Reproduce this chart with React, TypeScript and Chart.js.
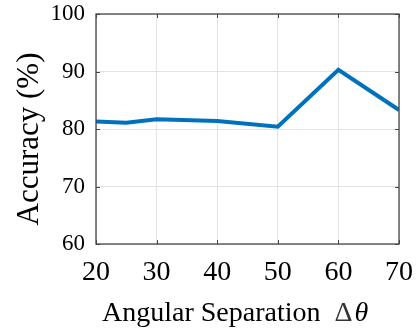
import React, { useEffect, useRef } from "react";
import { Chart, registerables } from "chart.js";

Chart.register(...registerables);

const xValues = [20, 25, 30, 40, 50, 60, 70];
const accuracy = [81.3, 81.1, 81.7, 81.4, 80.4, 90.3, 83.3];
const xTicks = [20, 30, 40, 50, 60, 70];
const yTicks = [60, 70, 80, 90, 100];
const xTitleText = "Angular Separation";
const xTitleSymbols = ["Δ", "θ"];
const yTitle = "Accuracy (%)";

const FONT = "'Liberation Serif', 'DejaVu Serif', serif";
const AXIS_COLOR = "#454545";

const boxPlugin = {
  id: "matlabBox",
  afterDraw(chart: any) {
    const { ctx, chartArea: a, scales } = chart;
    ctx.save();
    ctx.strokeStyle = AXIS_COLOR;
    ctx.lineWidth = 1;
    const tl = 4;
    ctx.beginPath();
    for (const v of xTicks) {
      const x = Math.round(scales.x.getPixelForValue(v)) + 0.5;
      ctx.moveTo(x, a.bottom);
      ctx.lineTo(x, a.bottom - tl);
      ctx.moveTo(x, a.top);
      ctx.lineTo(x, a.top + tl);
    }
    for (const v of yTicks) {
      const y = Math.round(scales.y.getPixelForValue(v)) + 0.5;
      ctx.moveTo(a.left, y);
      ctx.lineTo(a.left + tl, y);
      ctx.moveTo(a.right, y);
      ctx.lineTo(a.right - tl, y);
    }
    ctx.stroke();
    ctx.lineWidth = 1.3;
    ctx.strokeRect(a.left, a.top, a.right - a.left, a.bottom - a.top);

    // x title: "Angular Separation Δθ" (θ italic)
    ctx.fillStyle = "#000";
    ctx.textBaseline = "alphabetic";
    ctx.textAlign = "left";
    const fs = 28;
    ctx.font = `${fs}px ${FONT}`;
    const w1 = ctx.measureText(xTitleText).width;
    const wD = ctx.measureText(xTitleSymbols[0]).width;
    let x0 = a.left + 6;
    const base = 321;
    ctx.fillText(xTitleText, x0, base);
    x0 += w1 + 14;
    ctx.fillStyle = "#333";
    ctx.fillText(xTitleSymbols[0], x0, base);
    x0 += wD + 2;
    ctx.fillStyle = "#000";
    ctx.font = `italic ${fs}px ${FONT}`;
    ctx.fillText(xTitleSymbols[1], x0, base);

    // y title
    ctx.font = `31px ${FONT}`;
    ctx.textAlign = "center";
    ctx.textBaseline = "alphabetic";
    ctx.translate(38, 139);
    ctx.rotate(-Math.PI / 2);
    ctx.fillText(yTitle, 0, 0);
    ctx.restore();
  },
};

const zeroPad = (s: any) => {
  s.paddingTop = 0;
  s.paddingBottom = 0;
  s.paddingLeft = 0;
  s.paddingRight = 0;
};

export default function App() {
  const ref = useRef<HTMLCanvasElement | null>(null);
  useEffect(() => {
    document.body.style.margin = "0";
    const chart = new Chart(ref.current!, {
      type: "line",
      data: {
        datasets: [
          {
            data: xValues.map((x, i) => ({ x, y: accuracy[i] })),
            borderColor: "#0072BD",
            borderWidth: 4,
            pointRadius: 0,
            fill: false,
            tension: 0,
          },
        ],
      },
      options: {
        animation: false,
        responsive: false,
        events: [],
        layout: { autoPadding: false, padding: { top: 14, right: 20, left: 0, bottom: 0 } },
        plugins: { legend: { display: false }, tooltip: { enabled: false } },
        scales: {
          x: {
            type: "linear",
            min: 20,
            max: 70,
            afterBuildTicks: (s: any) => {
              s.ticks = xTicks.map((v) => ({ value: v }));
            },
            afterFit: (s: any) => {
              s.height = 87;
              zeroPad(s);
            },
            grid: { color: "#e3e3e3", drawTicks: false, lineWidth: 1 },
            border: { display: false },
            ticks: {
              color: "#000",
              font: { family: FONT, size: 28, lineHeight: 1 },
              padding: 15,
              maxRotation: 0,
              autoSkip: false,
            },
          },
          y: {
            min: 60,
            max: 100,
            afterBuildTicks: (s: any) => {
              s.ticks = yTicks.map((v) => ({ value: v }));
            },
            afterFit: (s: any) => {
              s.width = 96;
              zeroPad(s);
            },
            grid: { color: "#e3e3e3", drawTicks: false, lineWidth: 1 },
            border: { display: false },
            ticks: {
              color: "#000",
              font: { family: FONT, size: 23 },
              padding: 11,
            },
          },
        },
      },
      plugins: [boxPlugin],
    });
    return () => chart.destroy();
  }, []);
  return (
    <div style={{ position: "absolute", left: 0, top: 0, width: 419, height: 331 }}>
      <canvas ref={ref} width={419} height={331} style={{ width: 419, height: 331 }} />
    </div>
  );
}
